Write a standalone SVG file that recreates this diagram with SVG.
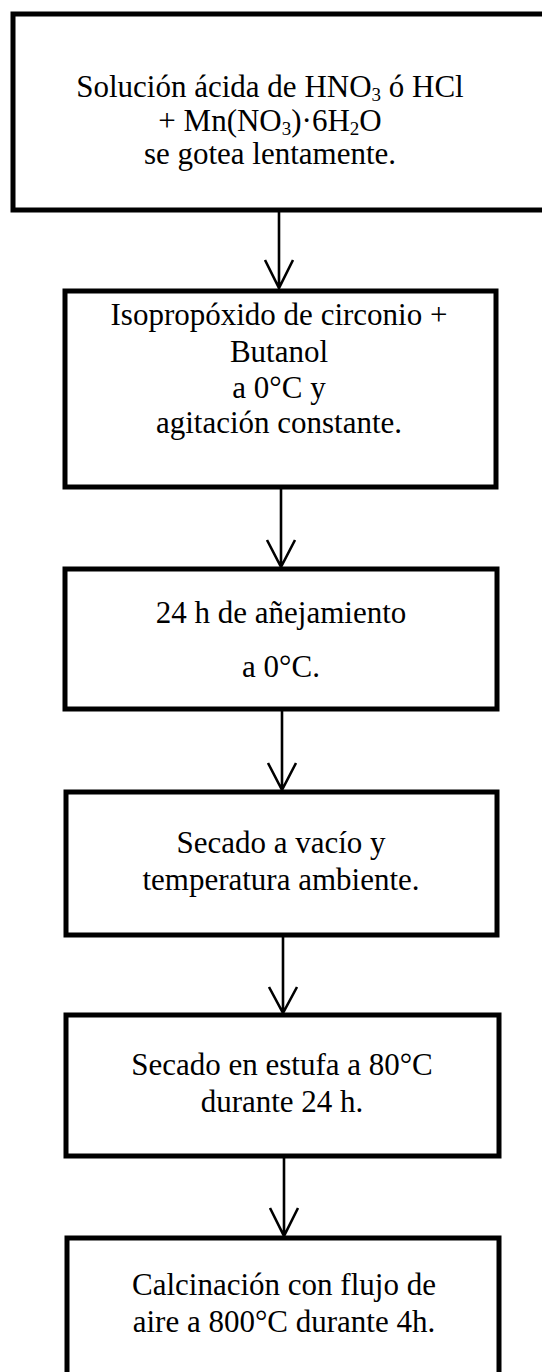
<svg xmlns="http://www.w3.org/2000/svg" width="542" height="1372" viewBox="0 0 542 1372">
<style>
.box{fill:#fff;stroke:#000;stroke-width:5}
.t{font-family:"Liberation Serif","Times New Roman",serif;font-size:31px;fill:#000;text-anchor:middle}
.sub{font-size:19px}
.ln{stroke:#000;stroke-width:2.6;fill:none}
</style>
<rect width="542" height="1372" fill="#fff"/>
<g id="n1">
<rect class="box" x="13" y="14" width="540" height="196"/>
<text class="t" x="270" y="97">Solución ácida de HNO<tspan class="sub" dy="4">3</tspan><tspan dy="-4"> ó HCl</tspan></text>
<text class="t" x="270" y="131">+ Mn(NO<tspan class="sub" dy="4">3</tspan><tspan dy="-4">)·6H</tspan><tspan class="sub" dy="4">2</tspan><tspan dy="-4">O</tspan></text>
<text class="t" x="270" y="164">se gotea lentamente.</text>
</g>
<g id="n2">
<rect class="box" x="65" y="291" width="431" height="196"/>
<text class="t" x="279" y="325">Isopropóxido de circonio +</text>
<text class="t" x="279" y="362">Butanol</text>
<text class="t" x="279" y="398">a 0°C y</text>
<text class="t" x="279" y="433">agitación constante.</text>
</g>
<g id="n3">
<rect class="box" x="65" y="569" width="432" height="140"/>
<text class="t" x="281" y="623">24 h de añejamiento</text>
<text class="t" x="281" y="677">a 0°C.</text>
</g>
<g id="n4">
<rect class="box" x="66" y="792" width="431" height="143"/>
<text class="t" x="281" y="853">Secado a vacío y</text>
<text class="t" x="281" y="890">temperatura ambiente.</text>
</g>
<g id="n5">
<rect class="box" x="66" y="1015" width="433" height="141"/>
<text class="t" x="282" y="1075">Secado en estufa a 80°C</text>
<text class="t" x="282" y="1112">durante 24 h.</text>
</g>
<g id="n6">
<rect class="box" x="67" y="1238" width="432" height="200"/>
<text class="t" x="284" y="1295">Calcinación con flujo de</text>
<text class="t" x="284" y="1332">aire a 800°C durante 4h.</text>
</g>
<g id="connectors">
<path class="ln" d="M279 212 V288 M265 260 L279 288 L293 260"/>
<path class="ln" d="M281 489 V567 M267 540 L281 567 L295 540"/>
<path class="ln" d="M282 711 V790 M268 763 L282 790 L296 763"/>
<path class="ln" d="M283 937 V1013 M269 987 L283 1013 L297 987"/>
<path class="ln" d="M284 1158 V1236 M270 1208 L284 1236 L298 1208"/>
</g>
</svg>
